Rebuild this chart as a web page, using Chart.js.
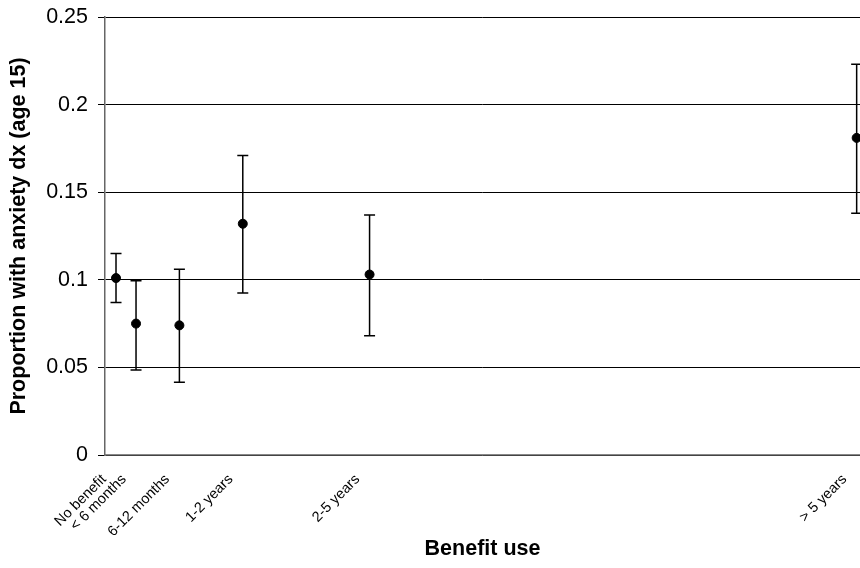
<!DOCTYPE html>
<html>
<head>
<meta charset="utf-8">
<script src="https://cdn.jsdelivr.net/npm/chart.js@4.4.1/dist/chart.umd.min.js"></script>
<style>
  html, body { margin: 0; padding: 0; background: #fff; }
  canvas { display: block; }
</style>
</head>
<body>
<canvas id="c" width="860" height="568"></canvas>
<script>
// ---- Data ----
const categories = ['No benefit', '< 6 months', '6-12 months', '1-2 years', '2-5 years', '> 5 years'];
const xPositions = [0, 3, 9.5, 19, 38, 111];          // position along the benefit-use axis
const proportion = [0.101, 0.075, 0.074, 0.132, 0.103, 0.181];
const lowerCI    = [0.087, 0.0485, 0.0415, 0.0925, 0.068, 0.138];
const upperCI    = [0.115, 0.0995, 0.106, 0.171, 0.137, 0.223];
const yTickValues = [0, 0.05, 0.1, 0.15, 0.2, 0.25];

const FONT = "'Liberation Sans', Arial, Helvetica, sans-serif";

const points = xPositions.map((x, i) => ({ x: x, y: proportion[i] }));

const errorBarPlugin = {
  id: 'errorBars',
  beforeDatasetsDraw(chart) {
    const ctx = chart.ctx;
    const xs = chart.scales.x, ys = chart.scales.y;
    ctx.save();
    ctx.strokeStyle = '#000';
    ctx.lineWidth = 1.5;
    const cap = 5.5;
    xPositions.forEach((xv, i) => {
      const px = xs.getPixelForValue(xv);
      const pLo = ys.getPixelForValue(lowerCI[i]);
      const pHi = ys.getPixelForValue(upperCI[i]);
      ctx.beginPath();
      ctx.moveTo(px, pLo); ctx.lineTo(px, pHi);
      ctx.moveTo(px - cap, pHi); ctx.lineTo(px + cap, pHi);
      ctx.moveTo(px - cap, pLo); ctx.lineTo(px + cap, pLo);
      ctx.stroke();
    });
    ctx.restore();
  }
};

new Chart(document.getElementById('c'), {
  type: 'scatter',
  data: {
    datasets: [{
      label: 'Proportion',
      data: points,
      backgroundColor: '#000',
      borderColor: '#000',
      pointRadius: 4.5,
      pointHoverRadius: 4.5,
      showLine: false,
      clip: false
    }]
  },
  plugins: [errorBarPlugin],
  options: {
    responsive: false,
    devicePixelRatio: 1,
    animation: false,
    layout: { autoPadding: false, padding: { top: 17, right: 0, left: 0, bottom: 0 } },
    plugins: {
      legend: { display: false },
      tooltip: { enabled: false }
    },
    scales: {
      x: {
        type: 'linear',
        min: -1.65,
        max: 111.5,
        grid: { display: false },
        border: { display: true, color: '#888', width: 1.5 },
        afterBuildTicks(scale) {
          scale.ticks = xPositions.map(v => ({ value: v }));
        },
        afterFit(scale) {
          scale.height = 113;
          scale.paddingRight = 0;
          scale.paddingLeft = 0;
        },
        ticks: {
          autoSkip: false,
          minRotation: 45,
          maxRotation: 45,
          padding: 8,
          labelOffset: -12,
          color: '#000',
          font: { family: FONT, size: 14.5 },
          callback: (value, index) => categories[index]
        },
        title: {
          display: true,
          text: 'Benefit use',
          color: '#000',
          padding: 6,
          font: { family: FONT, size: 21.5, weight: 'bold' }
        }
      },
      y: {
        min: 0,
        max: 0.25,
        afterBuildTicks(scale) {
          scale.ticks = yTickValues.map(v => ({ value: v }));
        },
        afterFit(scale) {
          scale.width = 105;
          scale.paddingTop = 0;
          scale.paddingBottom = 0;
        },
        grid: {
          color: '#000',
          lineWidth: 1,
          tickLength: 7,
          drawTicks: true
        },
        border: { display: true, color: '#666', width: 1.5 },
        ticks: {
          padding: 10,
          color: '#000',
          font: { family: FONT, size: 21.5 },
          callback: (value) => String(+value.toFixed(2))
        },
        title: {
          display: true,
          text: 'Proportion with anxiety dx (age 15)',
          color: '#000',
          padding: 6,
          font: { family: FONT, size: 21.5, weight: 'bold' }
        }
      }
    }
  }
});
</script>
</body>
</html>
